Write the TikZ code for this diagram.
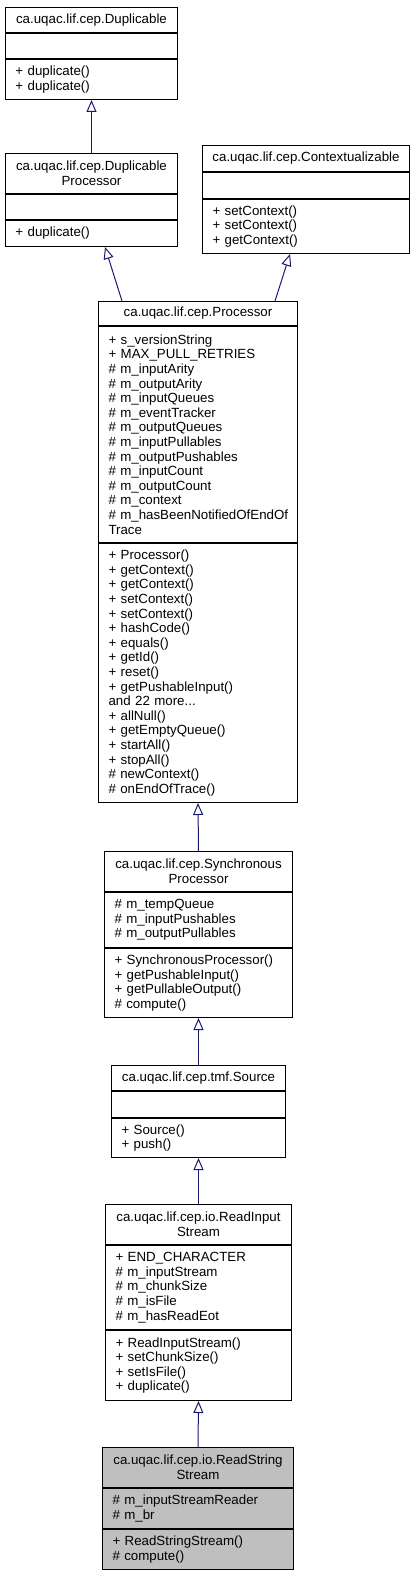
\documentclass[tikz,border=0pt]{standalone}
\usepackage{fontspec}
\setmainfont{Liberation Sans}
\usetikzlibrary{positioning,arrows.meta,calc}
\definecolor{edgeblue}{RGB}{25,25,112}
\definecolor{focusgray}{RGB}{191,191,191}
\hyphenpenalty=10000
\exhyphenpenalty=10000

\begin{document}
\begin{tikzpicture}[x=1pt, y=-1pt,
  part/.style={draw=black, line width=1pt, inner ysep=0pt,
    font=\fontsize{13.3}{14.6}\selectfont},
  classname/.style={part, inner xsep=3pt, align=center},
  member/.style={part, inner xsep=10pt, align=left},
  inherit/.style={draw=edgeblue, line width=1pt,
    -{Triangle[open, length=12pt, width=10pt]}}
]
\useasboundingbox (0,0) rectangle (415,1573);

% ca.uqac.lif.cep.Duplicable
\node[classname, text width=166pt, minimum height=25pt, anchor=north west] (dupT) at (5,7) {ca.uqac.lif.cep.Duplicable};
\node[member, text width=152pt, minimum height=25pt, below=0pt of dupT] (dupA) {};
\node[member, text width=152pt, minimum height=40pt, below=0pt of dupA] (dupM) {+ duplicate()\\+ duplicate()};

% ca.uqac.lif.cep.DuplicableProcessor
\node[classname, text width=166pt, minimum height=40pt, anchor=north west] (dprocT) at (5,153) {ca.uqac.lif.cep.Duplicable\\Processor};
\node[member, text width=152pt, minimum height=25pt, below=0pt of dprocT] (dprocA) {};
\node[member, text width=152pt, minimum height=26pt, below=0pt of dprocA] (dprocM) {+ duplicate()};

% ca.uqac.lif.cep.Contextualizable
\node[classname, text width=201pt, minimum height=26pt, anchor=north west] (ctxT) at (202,145) {ca.uqac.lif.cep.Contextualizable};
\node[member, text width=187pt, minimum height=26pt, below=0pt of ctxT] (ctxA) {};
\node[member, text width=187pt, minimum height=54pt, below=0pt of ctxA] (ctxM) {+ setContext()\\+ setContext()\\+ getContext()};

% ca.uqac.lif.cep.Processor
\node[classname, text width=193pt, minimum height=24pt, anchor=north west] (procT) at (98,301) {ca.uqac.lif.cep.Processor};
\node[member, text width=179pt, minimum height=216pt, below=0pt of procT] (procA) {+ s\_versionString\\+ MAX\_PULL\_RETRIES\\\# m\_inputArity\\\# m\_outputArity\\\# m\_inputQueues\\\# m\_eventTracker\\\# m\_outputQueues\\\# m\_inputPullables\\\# m\_outputPushables\\\# m\_inputCount\\\# m\_outputCount\\\# m\_context\\\#~m\_hasBeenNotifiedOfEndOf\\Trace};
\node[member, text width=179pt, minimum height=259pt, below=0pt of procA] (procM) {+ Processor()\\+ getContext()\\+ getContext()\\+ setContext()\\+ setContext()\\+ hashCode()\\+ equals()\\+ getId()\\+ reset()\\+ getPushableInput()\\and 22 more...\\+ allNull()\\+ getEmptyQueue()\\+ startAll()\\+ stopAll()\\\# newContext()\\\# onEndOfTrace()};

% ca.uqac.lif.cep.SynchronousProcessor
\node[classname, text width=182pt, minimum height=40pt, anchor=north west] (syncT) at (104,851) {ca.uqac.lif.cep.Synchronous\\Processor};
\node[member, text width=168pt, minimum height=55pt, below=0pt of syncT] (syncA) {\# m\_tempQueue\\\# m\_inputPushables\\\# m\_outputPullables};
\node[member, text width=168pt, minimum height=69pt, below=0pt of syncA] (syncM) {+ SynchronousProcessor()\\+ getPushableInput()\\+ getPullableOutput()\\\# compute()};

% ca.uqac.lif.cep.tmf.Source
\node[classname, text width=168pt, minimum height=25pt, anchor=north west] (srcT) at (111,1065) {ca.uqac.lif.cep.tmf.Source};
\node[member, text width=154pt, minimum height=26pt, below=0pt of srcT] (srcA) {};
\node[member, text width=154pt, minimum height=39pt, below=0pt of srcA] (srcM) {+ Source()\\+ push()};

% ca.uqac.lif.cep.io.ReadInputStream
\node[classname, text width=180pt, minimum height=40pt, anchor=north west] (risT) at (105,1204) {ca.uqac.lif.cep.io.ReadInput\\Stream};
\node[member, text width=166pt, minimum height=84pt, below=0pt of risT] (risA) {+ END\_CHARACTER\\\# m\_inputStream\\\# m\_chunkSize\\\# m\_isFile\\\# m\_hasReadEot};
\node[member, text width=166pt, minimum height=70pt, below=0pt of risA] (risM) {+ ReadInputStream()\\+ setChunkSize()\\+ setIsFile()\\+ duplicate()};

% ca.uqac.lif.cep.io.ReadStringStream
\node[classname, fill=focusgray, text width=185pt, minimum height=40pt, anchor=north west] (rssT) at (102,1447) {ca.uqac.lif.cep.io.ReadString\\Stream};
\node[member, fill=focusgray, text width=171pt, minimum height=40pt, below=0pt of rssT] (rssA) {\# m\_inputStreamReader\\\# m\_br};
\node[member, fill=focusgray, text width=171pt, minimum height=40pt, below=0pt of rssA] (rssM) {+ ReadStringStream()\\\# compute()};

% generalisations
\draw[inherit] (dprocT.north) -- (dupM.south);
\draw[inherit] ($(procT.north west)+(24,0)$) -- ($(dprocM.south west)+(100,0)$);
\draw[inherit] ($(procT.north west)+(177,0)$) -- ($(ctxM.south west)+(88,0)$);
\draw[inherit] (syncT.north) -- (procM.south);
\draw[inherit] (srcT.north) -- (syncM.south);
\draw[inherit] (risT.north) -- (srcM.south);
\draw[inherit] (rssT.north) -- (risM.south);
\end{tikzpicture}
\end{document}
